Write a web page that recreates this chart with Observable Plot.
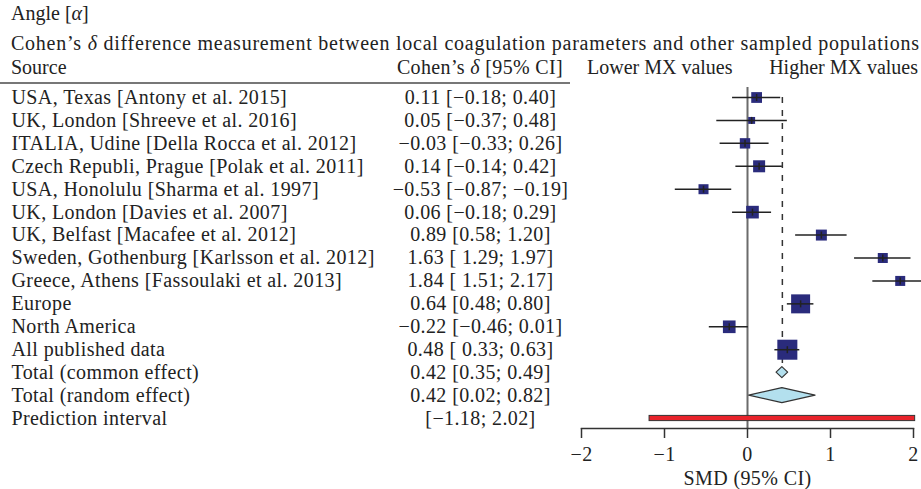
<!DOCTYPE html>
<html><head><meta charset="utf-8">
<script src="https://cdn.jsdelivr.net/npm/d3@7"></script>
<script src="https://cdn.jsdelivr.net/npm/@observablehq/plot@0.6"></script>
<style>
body{margin:0;background:#fff;}
#wrap{position:relative;width:921px;height:489px;font-family:"Liberation Serif",serif;color:#222;font-size:20px;overflow:hidden;}
#head{position:relative;height:84px;}
#head span{position:absolute;white-space:nowrap;line-height:24px;}
#rule{position:absolute;left:0;top:82px;width:570px;height:2px;background:#777;}
</style></head><body>
<div id="wrap">
<div id="head">
  <span id="t1" style="left:11px;top:1px"></span>
  <span id="t2" style="left:11px;top:31px;letter-spacing:0.76px"></span>
  <span id="h1" style="left:11px;top:55px"></span>
  <span id="h2" style="left:480px;top:55px;transform:translateX(-50%);letter-spacing:0.35px"></span>
  <span id="h3" style="left:587px;top:55px"></span>
  <span id="h4" style="right:3px;top:55px"></span>
  <div id="rule"></div>
</div>
<div id="chart"></div>
</div>
<script>
const titleText = "Angle [<i>α</i>]";
const subtitleText = "Cohen’s <i>δ</i> difference measurement between local coagulation parameters and other sampled populations";
const headSource = "Source";
const headCI = "Cohen’s <i>δ</i> [95% CI]";
const headLower = "Lower MX values";
const headHigher = "Higher MX values";
const axisLabel = "SMD (95% CI)";

const sources = [
  "USA, Texas [Antony et al. 2015]",
  "UK, London [Shreeve et al. 2016]",
  "ITALIA, Udine [Della Rocca et al. 2012]",
  "Czech Republi, Prague [Polak et al. 2011]",
  "USA, Honolulu [Sharma et al. 1997]",
  "UK, London [Davies et al. 2007]",
  "UK, Belfast [Macafee et al. 2012]",
  "Sweden, Gothenburg [Karlsson et al. 2012]",
  "Greece, Athens [Fassoulaki et al. 2013]",
  "Europe",
  "North America",
  "All published data",
  "Total (common effect)",
  "Total (random effect)",
  "Prediction interval"
];
const estimates = [0.11, 0.05, -0.03, 0.14, -0.53, 0.06, 0.89, 1.63, 1.84, 0.64, -0.22, 0.48, 0.42, 0.42, null];
const lower = [-0.18, -0.37, -0.33, -0.14, -0.87, -0.18, 0.58, 1.29, 1.51, 0.48, -0.46, 0.33, 0.35, 0.02, -1.18];
const upper = [0.40, 0.48, 0.26, 0.42, -0.19, 0.29, 1.20, 1.97, 2.17, 0.80, 0.01, 0.63, 0.49, 0.82, 2.02];
const ciLabels = [
  "0.11 [−0.18; 0.40]",
  "0.05 [−0.37; 0.48]",
  "−0.03 [−0.33; 0.26]",
  "0.14 [−0.14; 0.42]",
  "−0.53 [−0.87; −0.19]",
  "0.06 [−0.18; 0.29]",
  "0.89 [0.58; 1.20]",
  "1.63 [ 1.29; 1.97]",
  "1.84 [ 1.51; 2.17]",
  "0.64 [0.48; 0.80]",
  "−0.22 [−0.46; 0.01]",
  "0.48 [ 0.33; 0.63]",
  "0.42 [0.35; 0.49]",
  "0.42 [0.02; 0.82]",
  "[−1.18; 2.02]"
];
const rowKinds = ["study","study","study","study","study","study","study","study","study",
  "subgroup","subgroup","subgroup","common","random","prediction"];
// relative weights
const weights = [29, 12, 27, 36, 25, 40, 30, 25, 25, 90, 40, 100, null, null, null];
const xTicks = [-2, -1, 0, 1, 2];

document.getElementById("t1").innerHTML = titleText;
document.getElementById("t2").innerHTML = subtitleText;
document.getElementById("h1").innerHTML = headSource;
document.getElementById("h2").innerHTML = headCI;
document.getElementById("h3").innerHTML = headLower;
document.getElementById("h4").innerHTML = headHigher;

const rows = sources.map((s, i) => ({i, source: s, est: estimates[i], lo: lower[i], hi: upper[i],
  ci: ciLabels[i], kind: rowKinds[i], w: weights[i]}));
const boxRows = rows.filter(d => d.kind === "study" || d.kind === "subgroup");
const totals = rows.filter(d => d.kind === "common" || d.kind === "random");
const pred = rows.filter(d => d.kind === "prediction");
const common = rows.filter(d => d.kind === "common");

const ROW = 22.93;
const half = {common: 5.5 / ROW, random: 7.5 / ROW};
const predHalf = 2.6 / ROW;
const diamondPts = totals.flatMap(d => [
  {key: d.kind, x: d.lo, y1: d.i, y2: d.i},
  {key: d.kind, x: d.est, y1: d.i - half[d.kind], y2: d.i + half[d.kind]},
  {key: d.kind, x: d.hi, y1: d.i, y2: d.i}
]);

const vtick = {draw(context, size) { const h = Math.sqrt(size / Math.PI); context.moveTo(0, -h); context.lineTo(0, h); }};

const FONT = '"Liberation Serif", serif';
const INK = "#222";

const chart = Plot.plot({
  width: 921, height: 405,
  marginLeft: 581, marginRight: 8, marginTop: 3, marginBottom: 61,
  style: {fontFamily: FONT, fontSize: "20px", color: INK, background: "white", overflow: "visible", letterSpacing: "0.4px"},
  x: {domain: [-2, 2]},
  y: {domain: [0, sources.length - 1], range: [13, 334], axis: null},
  r: {type: "sqrt", domain: [0, d3.max(weights)], range: [0, 11.3]},
  marks: [
    Plot.text(rows, {y: "i", text: "source", frameAnchor: "left", dx: -570, textAnchor: "start", fontSize: 20, fontFamily: FONT, fill: INK}),
    Plot.text(rows, {y: "i", text: "ci", frameAnchor: "left", dx: -101, textAnchor: "middle", fontSize: 20, fontFamily: FONT, fill: INK}),
    Plot.ruleX([0], {stroke: "#6b6b6b", strokeWidth: 2}),
    Plot.ruleX(common, {x: "est", y2: d => d.i - half.common, stroke: "#333", strokeWidth: 1.5, strokeDasharray: "6,7"}),
    Plot.dot(boxRows, {x: "est", y: "i", r: "w", symbol: "square", fill: "#2a2b7c", stroke: null}),
    Plot.ruleY(boxRows, {y: "i", x1: "lo", x2: "hi", stroke: INK, strokeWidth: 1.5}),
    Plot.dot(boxRows, {x: "est", y: "i", r: 3.5, symbol: vtick, stroke: INK, fill: "none", strokeWidth: 1.5}),
    Plot.areaY(diamondPts, {x: "x", y1: "y1", y2: "y2", z: "key", fill: "#b3e0ee", stroke: "#333", strokeWidth: 1.2}),
    Plot.rect(pred, {x1: "lo", x2: "hi", y1: d => d.i - predHalf, y2: d => d.i + predHalf, fill: "#e8232b", stroke: "#333", strokeWidth: 1}),
    Plot.frame({anchor: "bottom", stroke: "#333", strokeWidth: 1.5}),
    Plot.axisX({ticks: xTicks, tickFormat: d3.format("d"), tickSize: 10, tickPadding: 8, fontSize: 20, fontFamily: FONT, stroke: "#333", strokeWidth: 1.5, fill: INK, label: null}),
    Plot.text([axisLabel], {text: d => d, frameAnchor: "bottom", dy: 56, fontSize: 20, fontFamily: FONT, fill: INK})
  ]
});
document.getElementById("chart").appendChild(chart);
</script>
</body></html>
